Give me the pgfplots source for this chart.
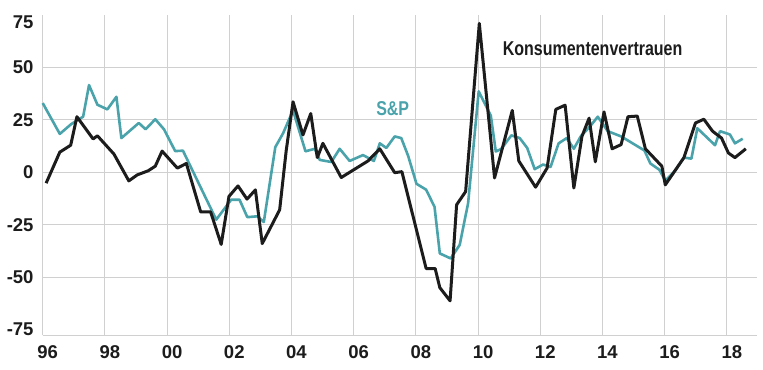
\documentclass[border=0pt]{standalone}
\usepackage{fontspec}
\setmainfont{Liberation Sans}
\newfontfamily\condfont[FakeStretch=0.8]{Liberation Sans}
\usepackage{pgfplots}
\pgfplotsset{compat=1.18}
\definecolor{teal1}{HTML}{4AA3AA}
\definecolor{ink}{HTML}{1C1C1C}
\definecolor{gridc}{HTML}{D0D0D0}
\begin{document}
\begin{tikzpicture}
\begin{axis}[
  at={(0,0)}, anchor=south west,
  scale only axis, width=714bp, height=320bp,
  xmin=1996, xmax=2018.96, ymin=-77.6, ymax=75,
  axis x line*=bottom, axis y line*=left,
  axis line style={draw=gridc, line width=1bp, -},
  xtick={1996,1998,...,2018},
  xticklabels={96,98,00,02,04,06,08,10,12,14,16,18},
  ytick={-75,-50,-25,0,25,50},
  yticklabels={-75,-50,-25,0,25,50},
  extra y ticks={75}, extra y tick labels={75},
  extra y tick style={yticklabel style={yshift=-7bp}},
  minor ytick={-50,-25,0,25,50},
  yminorgrids=true, xmajorgrids=true, ymajorgrids=false,
  minor grid style={draw=gridc, line width=1bp},
  major grid style={draw=gridc, line width=1bp},
  major tick length=0pt, minor tick length=0pt,
  xticklabel style={anchor=base, yshift=-23.3bp, xshift=5bp, inner sep=0pt, text=ink, font=\bfseries\fontsize{18.5bp}{20bp}\selectfont},
  yticklabel style={anchor=east, xshift=-9bp, inner sep=0pt, text=ink, font=\bfseries\fontsize{18.5bp}{20bp}\selectfont},
  clip=false,
]
\addplot[teal1, line width=2.6bp, line join=round] coordinates {
(1996.00,33) (1996.55,18.3) (1996.92,23) (1997.30,26.5) (1997.49,41.6) (1997.76,32.2)
(1998.08,30) (1998.37,36) (1998.53,16.3) (1999.09,23.5) (1999.31,20.5) (1999.62,25.3)
(1999.90,20.5) (2000.26,10.1) (2000.51,10.3) (2001.58,-22.6) (2002.06,-13.1) (2002.33,-13.1)
(2002.58,-21.4) (2002.90,-21) (2003.11,-23.7) (2003.48,12) (2003.73,18.6) (2004.05,29.5)
(2004.45,10) (2004.75,11.2) (2004.91,5.9) (2005.28,4.9) (2005.55,11.2) (2005.87,5.4)
(2006.30,8.2) (2006.65,5.4) (2006.84,13.8) (2007.05,11.6) (2007.32,17.1) (2007.53,16.3)
(2007.75,7.9) (2008.02,-5.5) (2008.33,-8.3) (2008.60,-16.5) (2008.77,-38.7) (2009.12,-41.1)
(2009.41,-34.6) (2009.68,-14.7) (2010.02,38.6) (2010.41,27) (2010.57,9.9) (2010.75,11.2)
(2011.07,17.6) (2011.34,16.3) (2011.58,11.6) (2011.82,1.5) (2012.09,3.7) (2012.33,2.5)
(2012.59,13.8) (2012.85,16.3) (2013.08,11.2) (2013.30,17.1) (2013.59,21.7) (2013.85,26.5)
(2014.17,19.6) (2014.60,17.1) (2015.35,10.4) (2015.54,4.2) (2015.83,1.2) (2016.02,-4)
(2016.34,0.8) (2016.62,7) (2016.86,6.5) (2017.05,21) (2017.62,12.9) (2017.78,19.6)
(2018.10,18) (2018.26,13.8) (2018.51,16)
};
\addplot[ink, line width=3bp, line join=round] coordinates {
(1996.11,-5.2) (1996.55,9.6) (1996.90,12.9) (1997.10,26.5) (1997.62,15.9) (1997.76,17.4)
(1998.29,8.7) (1998.77,-4.1) (1999.04,-1.25) (1999.39,0.7) (1999.62,2.9) (1999.84,10.1)
(2000.33,2) (2000.62,4.2) (2001.08,-18.9) (2001.40,-18.9) (2001.74,-34.4) (2001.99,-11.5)
(2002.28,-6.5) (2002.57,-12.8) (2002.84,-8.4) (2003.06,-34) (2003.62,-17.9) (2003.83,10.3)
(2004.05,33.6) (2004.37,17.8) (2004.62,28) (2004.83,7) (2005.01,13.8) (2005.60,-2.5)
(2006.46,5.4) (2006.84,11.2) (2007.32,-0.2) (2007.55,0.3) (2008.33,-45.9) (2008.62,-45.9)
(2008.77,-55) (2009.10,-61.3) (2009.31,-15.5) (2009.60,-9.2) (2010.04,71) (2010.53,-2.7)
(2011.10,29.5) (2011.31,5.4) (2011.85,-7.1) (2012.22,2) (2012.50,30) (2012.80,32)
(2013.08,-7.5) (2013.34,17.1) (2013.57,25.8) (2013.77,5) (2014.05,28.8) (2014.31,11.2)
(2014.60,13.2) (2014.82,26.5) (2015.12,26.8) (2015.38,11.2) (2015.91,2.9) (2016.02,-6)
(2016.62,7) (2016.99,23.5) (2017.26,25.3) (2017.54,19.6) (2017.83,16.3) (2018.05,9.2)
(2018.26,7) (2018.61,11.2)
};
\node[anchor=base west, inner sep=0pt, text=teal1, font=\condfont\bfseries\fontsize{20bp}{22bp}\selectfont] at (axis cs:2006.72,27.2) {S\&P};
\node[anchor=base west, inner sep=0pt, text=ink, font=\condfont\bfseries\fontsize{20bp}{22bp}\selectfont] at (axis cs:2010.79,55.8) {Konsumentenvertrauen};
\end{axis}
\pgfresetboundingbox
\path[use as bounding box] (-42.7bp,-35bp) rectangle (720.3bp,335bp);
\end{tikzpicture}
\end{document}
